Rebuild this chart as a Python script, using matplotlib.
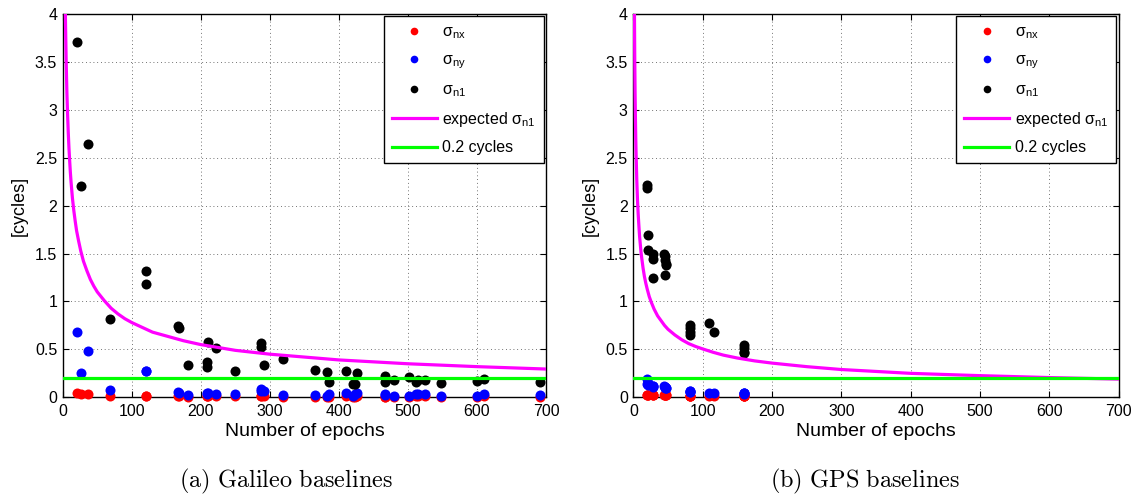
import numpy as np
import matplotlib
matplotlib.use("Agg")
import matplotlib.pyplot as plt
from matplotlib.lines import Line2D

plt.rcParams['font.family'] = ['Liberation Sans', 'DejaVu Sans']
plt.rcParams['mathtext.fontset'] = 'custom'
plt.rcParams['mathtext.rm'] = 'Liberation Sans'
plt.rcParams['mathtext.it'] = 'Liberation Sans:italic'

# ---- Galileo baselines: epochs and ambiguity std-devs [cycles] ----
gal_epochs = [20, 26, 36, 69, 120, 121, 167, 168, 182, 209, 209, 211, 222, 250,
              287, 287, 292, 319, 365, 383, 386, 410, 420, 424, 426, 467, 467,
              480, 502, 511, 515, 524, 548, 600, 610, 691]
gal_sig_nx = [0.04, 0.03, 0.03, 0.01, 0.01, 0.01, 0.01, 0.01, 0.005, 0.01, 0.01, 0.01, 0.01, 0.01,
              0.01, 0.01, 0.01, 0.005, 0.005, 0.005, 0.005, 0.01, 0.005, 0.005, 0.01, 0.005, 0.005,
              0.005, 0.005, 0.01, 0.01, 0.01, 0.005, 0.005, 0.01, 0.005]
gal_sig_ny = [0.685, 0.257, 0.487, 0.076, 0.275, 0.27, 0.055, 0.05, 0.024, 0.05, 0.03, 0.04, 0.03, 0.03,
              0.083, 0.07, 0.063, 0.025, 0.02, 0.015, 0.035, 0.045, 0.015, 0.03, 0.05, 0.03, 0.025,
              0.01, 0.015, 0.03, 0.035, 0.03, 0.01, 0.01, 0.03, 0.02]
gal_sig_n1 = [3.71, 2.21, 2.64, 0.82, 1.32, 1.18, 0.74, 0.72, 0.337, 0.365, 0.313, 0.577, 0.51, 0.275,
              0.564, 0.522, 0.334, 0.40, 0.285, 0.267, 0.156, 0.275, 0.139, 0.139, 0.25, 0.225, 0.163,
              0.18, 0.215, 0.156, 0.18, 0.18, 0.146, 0.173, 0.188, 0.156]

# ---- GPS baselines ----
gps_epochs = [20, 20, 21, 21, 28, 28, 29, 44, 45, 46, 47, 47, 46,
              82, 82, 82, 82, 109, 117, 159, 159, 159, 159]
gps_sig_nx = [0.02, 0.02, 0.02, 0.02, 0.02, 0.02, 0.02, 0.02, 0.02, 0.02, 0.02, 0.02, 0.02,
              0.01, 0.01, 0.01, 0.01, 0.015, 0.015, 0.01, 0.01, 0.01, 0.01]
gps_sig_ny = [0.195, 0.14, 0.15, 0.13, 0.12, 0.11, 0.12, 0.118, 0.10, 0.11, 0.097, 0.10, 0.11,
              0.07, 0.06, 0.065, 0.06, 0.05, 0.05, 0.04, 0.04, 0.035, 0.04]
gps_sig_n1 = [2.22, 2.18, 1.69, 1.54, 1.50, 1.44, 1.25, 1.50, 1.47, 1.43, 1.39, 1.38, 1.28,
              0.755, 0.72, 0.685, 0.65, 0.78, 0.68, 0.546, 0.51, 0.476, 0.46]

# ---- expected sigma_n1 curves ----
exp_epochs = [1, 1.5, 2, 2.5, 3, 3.5, 4, 5, 6, 7, 8, 9, 10, 11, 12, 14, 16, 18, 20,
              23, 26, 30, 35, 40, 45, 50, 60, 70, 80, 90, 100, 115, 130, 150, 175,
              200, 250, 300, 350, 400, 500, 600, 700]
gal_expected = [7.80, 6.37, 5.52, 4.93, 4.50, 4.17, 3.90, 3.49, 3.18, 2.95, 2.76, 2.60,
                2.47, 2.35, 2.25, 2.08, 1.95, 1.84, 1.74, 1.63, 1.53, 1.42, 1.32, 1.23,
                1.16, 1.10, 1.01, 0.93, 0.87, 0.82, 0.78, 0.73, 0.68, 0.64, 0.59, 0.55,
                0.49, 0.45, 0.42, 0.39, 0.35, 0.32, 0.295]
gps_expected = [5.05, 4.12, 3.57, 3.19, 2.92, 2.70, 2.53, 2.26, 2.06, 1.91, 1.79, 1.68,
                1.60, 1.52, 1.46, 1.35, 1.26, 1.19, 1.13, 1.05, 0.99, 0.92, 0.85, 0.80,
                0.75, 0.71, 0.65, 0.60, 0.56, 0.53, 0.505, 0.47, 0.44, 0.41, 0.38, 0.357,
                0.32, 0.29, 0.27, 0.25, 0.226, 0.206, 0.19]
threshold = 0.2

x_ticks = [0, 100, 200, 300, 400, 500, 600, 700]
y_ticks = [0, 0.5, 1, 1.5, 2, 2.5, 3, 3.5, 4]
y_tick_labels = ['0', '0.5', '1', '1.5', '2', '2.5', '3', '3.5', '4']

fig = plt.figure(figsize=(11.43, 4.98), dpi=100)
ax_gal = fig.add_axes([0.0549, 0.2022, 0.4228, 0.7697])
ax_gps = fig.add_axes([0.5541, 0.2022, 0.4245, 0.7697])

dot = 52


def draw_panel(ax, epochs, snx, sny, sn1, expected):
    ax.scatter(epochs, snx, s=dot, color='#ff0000', lw=0, zorder=3, clip_on=False)
    ax.scatter(epochs, sny, s=dot, color='#0000ff', lw=0, zorder=3, clip_on=False)
    ax.scatter(epochs, sn1, s=dot, color='#000000', lw=0, zorder=3, clip_on=False)
    ax.plot(exp_epochs, expected, color='#ff00ff', lw=2.3, zorder=4,
            solid_joinstyle='round')
    ax.axhline(threshold, color='#00ff00', lw=2.3, zorder=4)
    ax.set_xlim(0, 700)
    ax.set_ylim(0, 4)
    ax.set_xticks(x_ticks)
    ax.set_yticks(y_ticks)
    ax.set_yticklabels(y_tick_labels)
    ax.tick_params(direction='in', top=True, right=True, labelsize=11.5,
                   length=4, width=0.8)
    ax.tick_params(axis='x', pad=5)
    ax.tick_params(axis='y', pad=4)
    ax.grid(True, color='#444444', lw=0.6, linestyle=(0, (1, 3.5)))
    ax.set_axisbelow(True)
    for s in ax.spines.values():
        s.set_linewidth(1.0)
    ax.set_xlabel('Number of epochs', fontsize=14, labelpad=3)
    ax.set_ylabel('[cycles]', fontsize=13, labelpad=5)

    handles = [
        Line2D([], [], ls='none', marker='o', ms=5.5, color='#ff0000', mew=0),
        Line2D([], [], ls='none', marker='o', ms=5.5, color='#0000ff', mew=0),
        Line2D([], [], ls='none', marker='o', ms=5.5, color='#000000', mew=0),
        Line2D([], [], color='#ff00ff', lw=2.3),
        Line2D([], [], color='#00ff00', lw=2.3),
    ]
    labels = ['σ$_{\\rm nx}$', 'σ$_{\\rm ny}$', 'σ$_{\\rm n1}$',
              'expected σ$_{\\rm n1}$', '0.2 cycles']
    leg = ax.legend(handles, labels, loc='upper right', fontsize=11.5,
                    frameon=True, fancybox=False, edgecolor='black',
                    framealpha=1, borderaxespad=0.15, handlelength=2.8,
                    handletextpad=0.35, labelspacing=0.7, borderpad=0.5)
    leg.get_frame().set_linewidth(1.0)
    leg.set_zorder(10)


draw_panel(ax_gal, gal_epochs, gal_sig_nx, gal_sig_ny, gal_sig_n1, gal_expected)
draw_panel(ax_gps, gps_epochs, gps_sig_nx, gps_sig_ny, gps_sig_n1, gps_expected)

fig.text(286 / 1143, 1 - 481 / 498, r'$\mathrm{(a)\ Galileo\ baselines}$',
         ha='center', va='center', fontsize=17.5, math_fontfamily='cm')
fig.text(865 / 1143, 1 - 481 / 498, r'$\mathrm{(b)\ GPS\ baselines}$',
         ha='center', va='center', fontsize=17.5, math_fontfamily='cm')

fig.savefig('out.png', dpi=100)
